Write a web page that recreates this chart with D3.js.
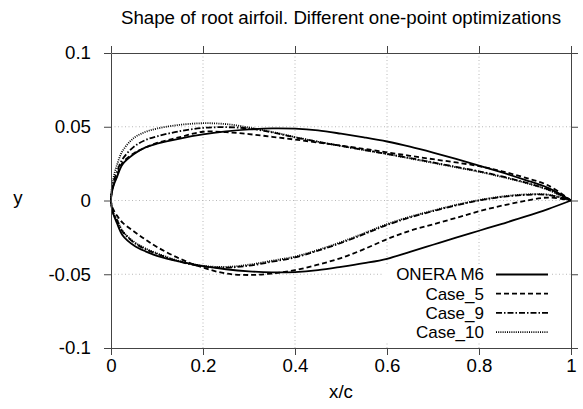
<!DOCTYPE html>
<html>
<head>
<meta charset="utf-8">
<script src="https://cdn.jsdelivr.net/npm/d3@7"></script>
<style>
  * {
    margin: 0;
    padding: 0;
  }
  body {
    background: #fff;
  }
  svg text {
    font-family: "Liberation Sans", Arial, sans-serif;
    font-size: 18.7px;
    fill: #000;
  }
  .legend-label {
    font-size: 17px;
  }
</style>
</head>
<body>
<svg id="chart"></svg>
<script>
// chord stations shared by every section
const xc = [0, 0.005, 0.0125, 0.025, 0.05, 0.075, 0.1, 0.15, 0.2, 0.25, 0.3, 0.35,
  0.4, 0.45, 0.5, 0.55, 0.6, 0.65, 0.7, 0.75, 0.8, 0.85, 0.9, 0.95, 1];

// ONERA M6 root section
const oneraUpper = [0, 0.0095, 0.0155, 0.0245, 0.0315, 0.036, 0.0385, 0.042, 0.0448, 0.0468, 0.0482, 0.0489,
  0.0487, 0.0475, 0.0453, 0.0428, 0.04, 0.0365, 0.0325, 0.0282, 0.0237, 0.019, 0.014, 0.0086, 0];
const oneraLower = [0, -0.009, -0.015, -0.0235, -0.0305, -0.0345, -0.0375, -0.0415, -0.0445, -0.0466, -0.048, -0.0487,
  -0.0485, -0.0472, -0.045, -0.0425, -0.0395, -0.0348, -0.03, -0.0252, -0.0205, -0.0158, -0.011, -0.0058, 0];

// Case_5
const case5Upper = [0, 0.01, 0.0165, 0.0255, 0.032, 0.036, 0.039, 0.043, 0.0466, 0.0463, 0.045, 0.0432,
  0.0413, 0.0393, 0.0372, 0.035, 0.0327, 0.0303, 0.028, 0.0258, 0.0233, 0.0198, 0.0155, 0.0103, 0];
const case5Lower = [0, -0.006, -0.01, -0.015, -0.021, -0.0265, -0.0315, -0.0395, -0.0455, -0.0495, -0.0505, -0.0495,
  -0.0472, -0.0435, -0.039, -0.033, -0.0262, -0.0205, -0.0162, -0.0118, -0.0073, -0.0035, -0.0003, 0.002, 0];

// Case_9
const case9Upper = [0, 0.012, 0.019, 0.028, 0.0365, 0.041, 0.0435, 0.047, 0.0492, 0.0497, 0.0488, 0.0462,
  0.0428, 0.0398, 0.037, 0.0343, 0.0316, 0.0288, 0.0258, 0.0228, 0.0198, 0.0163, 0.0123, 0.0075, 0];
const case9Lower = [0, -0.0088, -0.013, -0.021, -0.0285, -0.033, -0.0362, -0.0416, -0.0447, -0.0455, -0.0442, -0.0415,
  -0.0386, -0.034, -0.0288, -0.0228, -0.0166, -0.0115, -0.0072, -0.0033, 0, 0.0024, 0.0038, 0.0038, 0];

// Case_10
const case10Upper = [0, 0.0145, 0.0235, 0.0335, 0.0425, 0.0465, 0.0488, 0.0513, 0.0524, 0.0518, 0.0495, 0.0465,
  0.043, 0.0398, 0.037, 0.0342, 0.0315, 0.0285, 0.0255, 0.0225, 0.0195, 0.016, 0.012, 0.0072, 0];
const case10Lower = [0, -0.0085, -0.0125, -0.0205, -0.028, -0.0325, -0.0358, -0.0412, -0.0443, -0.045, -0.0435, -0.0408,
  -0.038, -0.0335, -0.0282, -0.0222, -0.016, -0.011, -0.0068, -0.003, 0.0003, 0.0027, 0.0041, 0.004, 0];

const seriesNames = ["ONERA M6", "Case_5", "Case_9", "Case_10"];
const xTicks = [0, 0.2, 0.4, 0.6, 0.8, 1];
const yTicks = [-0.1, -0.05, 0, 0.05, 0.1];

const series = [
  { name: seriesNames[0], upper: oneraUpper, lower: oneraLower, dash: null },
  { name: seriesNames[1], upper: case5Upper, lower: case5Lower, dash: "5,3" },
  { name: seriesNames[2], upper: case9Upper, lower: case9Lower, dash: "6,2,1.5,2" },
  { name: seriesNames[3], upper: case10Upper, lower: case10Lower, dash: "1,1.2" },
];

const width = 583;
const height = 409;
const marginTop = 53;
const marginRight = 12;
const marginBottom = 61;
const marginLeft = 111;
const lineWidth = 1.8;

const x = d3.scaleLinear().domain([0, 1]).range([marginLeft, width - marginRight]);
const y = d3.scaleLinear().domain([-0.1, 0.1]).range([height - marginBottom, marginTop]);

const svg = d3
  .select("#chart")
  .attr("width", width)
  .attr("height", height)
  .attr("viewBox", [0, 0, width, height]);

// dotted grid
const grid = svg.append("g").attr("stroke", "#b8b8b8").attr("stroke-dasharray", "1,2.5");
grid
  .selectAll("line.gx")
  .data(xTicks.slice(1, -1))
  .join("line")
  .attr("x1", (d) => x(d))
  .attr("x2", (d) => x(d))
  .attr("y1", y(-0.1))
  .attr("y2", y(0.1));
grid
  .selectAll("line.gy")
  .data(yTicks.slice(1, -1))
  .join("line")
  .attr("x1", x(0))
  .attr("x2", x(1))
  .attr("y1", (d) => y(d))
  .attr("y2", (d) => y(d));

// one closed loop per section: trailing edge -> upper -> leading edge -> lower
const line = d3
  .line()
  .x((d) => x(d[0]))
  .y((d) => y(d[1]))
  .curve(d3.curveCatmullRom.alpha(0.5));

svg
  .append("g")
  .attr("fill", "none")
  .attr("stroke", "#000")
  .attr("stroke-width", lineWidth)
  .selectAll("path")
  .data(series)
  .join("path")
  .attr("stroke-dasharray", (s) => s.dash)
  .attr("d", (s) => {
    const up = xc.map((v, i) => [v, s.upper[i]]).reverse();
    const lo = xc.map((v, i) => [v, s.lower[i]]).slice(1);
    return line(up.concat(lo));
  });

// legend
const legend = svg.append("g");
legend
  .append("rect")
  .attr("x", 384)
  .attr("y", 264)
  .attr("width", 168)
  .attr("height", 78)
  .attr("fill", "#fff");
const entry = legend
  .selectAll("g")
  .data(series)
  .join("g")
  .attr("transform", (s, i) => `translate(0,${274.5 + i * 19.2})`);
entry
  .append("text")
  .attr("class", "legend-label")
  .attr("x", 484)
  .attr("dy", "0.35em")
  .attr("text-anchor", "end")
  .text((s) => s.name);
entry
  .append("line")
  .attr("x1", 496)
  .attr("x2", 548)
  .attr("stroke", "#000")
  .attr("stroke-width", lineWidth)
  .attr("stroke-dasharray", (s) => s.dash);

// axes with outward ticks on all four sides
const fmt = (d) => (d === 0 ? "0" : d3.format("~g")(d).replace("−", "-"));
const axisColor = "#444";
const styleAxis = (g) => {
  g.selectAll(".domain").attr("stroke", axisColor);
  g.selectAll(".tick line").attr("stroke", axisColor);
  g.selectAll(".tick text").style("font-size", "18.7px").attr("fill", "#000");
};

svg
  .append("g")
  .attr("transform", `translate(0,${y(-0.1)})`)
  .call(d3.axisBottom(x).tickValues(xTicks).tickFormat(fmt).tickSize(7).tickSizeOuter(0).tickPadding(4))
  .call(styleAxis);
svg
  .append("g")
  .attr("transform", `translate(0,${y(0.1)})`)
  .call(d3.axisTop(x).tickValues(xTicks).tickFormat("").tickSize(7).tickSizeOuter(0))
  .call(styleAxis);
svg
  .append("g")
  .attr("transform", `translate(${x(0)},0)`)
  .call(d3.axisLeft(y).tickValues(yTicks).tickFormat(fmt).tickSize(7).tickSizeOuter(0).tickPadding(13))
  .call(styleAxis);
svg
  .append("g")
  .attr("transform", `translate(${x(1)},0)`)
  .call(d3.axisRight(y).tickValues(yTicks).tickFormat("").tickSize(7).tickSizeOuter(0))
  .call(styleAxis);

// titles
svg
  .append("text")
  .attr("x", (x(0) + x(1)) / 2)
  .attr("y", 24)
  .attr("text-anchor", "middle")
  .text("Shape of root airfoil. Different one-point optimizations");
svg
  .append("text")
  .attr("x", (x(0) + x(1)) / 2)
  .attr("y", 398)
  .attr("text-anchor", "middle")
  .text("x/c");
svg
  .append("text")
  .attr("x", 18)
  .attr("y", y(0) + 3)
  .attr("text-anchor", "middle")
  .text("y");
</script>
</body>
</html>
